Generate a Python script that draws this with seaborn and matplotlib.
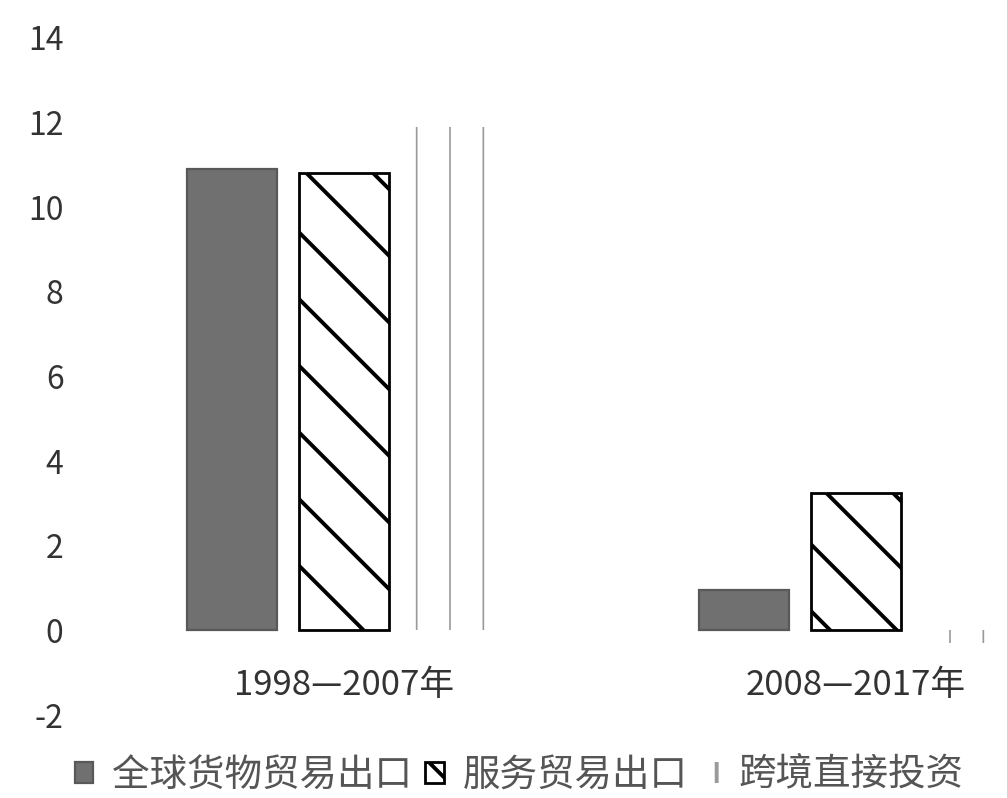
import matplotlib
matplotlib.use("Agg")
import matplotlib.pyplot as plt
from matplotlib.patches import Patch
import seaborn as sns
import pandas as pd

# === data ===
periods = ["1998—2007年", "2008—2017年"]
series = ["全球货物贸易出口", "服务贸易出口", "跨境直接投资"]
goods = [10.9, 0.95]
services = [10.8, 3.25]
fdi = [11.9, -0.3]
yticks = [-2, 0, 2, 4, 6, 8, 10, 12, 14]

df = pd.DataFrame({
    "period": periods * 3,
    "series": [series[0]] * 2 + [series[1]] * 2 + [series[2]] * 2,
    "value": goods + services + fdi,
})

sns.set_style("white")
plt.rcParams['font.family'] = ['Noto Sans CJK SC', 'DejaVu Sans']
plt.rcParams['hatch.linewidth'] = 1.4

fig = plt.figure(figsize=(1007 / 200, 798 / 200), dpi=200)
ax = fig.add_axes([90 / 1007, 1 - 715 / 798, 1 - 90 / 1007, (715 - 38) / 798])

sns.barplot(data=df, x="period", y="value", hue="series", ax=ax,
            width=0.656, gap=0.2, palette=["#707070", "white", "white"],
            legend=False)

# style each series
for bar in ax.containers[0]:
    bar.set_edgecolor("#585858")
    bar.set_linewidth(0.8)
for bar in ax.containers[1]:
    bar.set_hatch("\\")
    bar.set_edgecolor("black")
    bar.set_linewidth(1.0)
for bar in ax.containers[2]:
    bar.set_hatch("|")
    bar.set_edgecolor("#9a9a9a")
    bar.set_linewidth(0)
    if hasattr(bar, "set_hatch_linewidth"):
        bar.set_hatch_linewidth(0.6)

ax.set_xlim(-0.496, 1.295)
ax.set_ylim(-2, 14)
ax.set_yticks(yticks)
ax.set_yticklabels([str(t) for t in yticks], fontsize=11.5, color="#333333")
ax.tick_params(axis="y", pad=6)
ax.set_xticks([])
ax.set_xlabel("")
ax.set_ylabel("")
# category labels sit inside the plot, just under the zero line
for i, p in enumerate(periods):
    ax.text(i, -1.3, p, ha="center", va="center", fontsize=12.5, color="#333333")
sns.despine(ax=ax, left=True, bottom=True, top=True, right=True)

# legend along the bottom
handles = [
    Patch(facecolor="#707070", edgecolor="#585858", linewidth=0.8),
    Patch(facecolor="white", edgecolor="black", hatch="\\", linewidth=1.0),
    Patch(facecolor="white", edgecolor="#9a9a9a", hatch="|", linewidth=0),
]
fig.legend(handles, series, loc="center left", bbox_to_anchor=(0.074, 1 - 775 / 798),
           ncol=3, frameon=False, fontsize=13.5, handlelength=0.5,
           handleheight=0.5, handletextpad=0.5, columnspacing=0.35,
           labelcolor="#555555", borderaxespad=0, borderpad=0)

fig.savefig("out.png", dpi=200)
